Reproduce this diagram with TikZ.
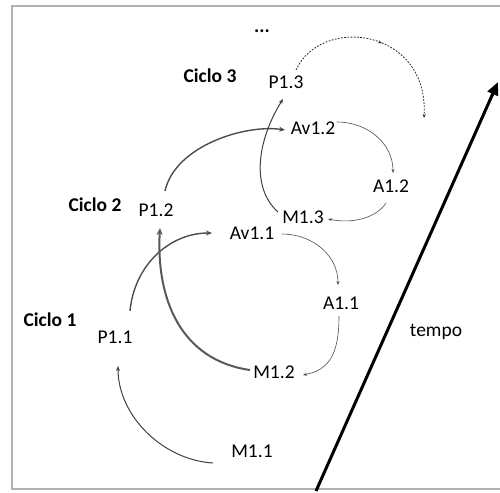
\documentclass[tikz,border=0pt]{standalone}
\usepackage{fontspec}
\setmainfont{Carlito}
\usetikzlibrary{arrows.meta,decorations.markings}
\begin{document}
\begin{tikzpicture}[x=1pt,y=-1pt,
  lbl/.style={font=\fontsize{19.5}{21}\selectfont, inner sep=0pt},
  cyc/.style={font=\fontsize{19.5}{21}\selectfont\bfseries, inner sep=0pt},
  fine/.style={draw=black!70, line width=0.6pt, -{Stealth[length=4pt,width=3pt]}},
  mid/.style={draw=black!75, line width=1pt, -{Stealth[length=5pt,width=4pt]}},
  bold/.style={draw=black!70, line width=1.4pt, -{Stealth[length=6pt,width=5pt]}},
  heavy/.style={draw=black!65, line width=2pt, -{Stealth[length=7pt,width=6pt]}},
  future/.style={draw=black!85, line width=0.8pt, dash pattern=on 1.8pt off 1.4pt,
    -{Stealth[length=4pt,width=3pt]},
    postaction={decorate, decoration={markings,
      mark=at position 0.52 with {\arrow[black!85]{Stealth[length=4pt,width=3pt]}}}}},
  timeline/.style={draw=black, line width=3pt, -{Triangle[length=13pt,width=11pt]}}
]
\useasboundingbox (0,0) rectangle (500,492);
% frame
\begin{scope}
  \clip (0,0) rectangle (500,492);
  \draw[black!30, line width=1.6pt] (12,6) rectangle (506,489);
\end{scope}

% cycle labels
\node[cyc] (dots) at (262,31) {...};
\node[cyc] (c3) at (210,76) {Ciclo 3};
\node[cyc] (c2) at (95,205) {Ciclo 2};
\node[cyc] (c1) at (50,320) {Ciclo 1};

% states
\node[lbl] (P13)  at (286,82)  {P1.3};
\node[lbl] (Av12) at (313,128) {Av1.2};
\node[lbl] (A12)  at (391,186) {A1.2};
\node[lbl] (M13)  at (303,217) {M1.3};
\node[lbl] (P12)  at (156,210) {P1.2};
\node[lbl] (Av11) at (252,233) {Av1.1};
\node[lbl] (A11)  at (341,303) {A1.1};
\node[lbl] (P11)  at (115,337) {P1.1};
\node[lbl] (M12)  at (274,372) {M1.2};
\node[lbl] (M11)  at (252,451) {M1.1};
\node[lbl] (tempo) at (436,332) {tempo};

% time axis
\coordinate (t0) at (316,491);
\coordinate (t1) at (498,82);
\draw[timeline] (t0) -- (t1);

% cycle 1
\draw[mid] ([shift={(-39,12)}]M11.center) .. controls +(-50,-3) and +(0,50) .. ([shift={(3,29)}]P11.center);
\draw[bold] ([shift={(15,-26)}]P11.center) .. controls +(4,-44) and +(-44,0) .. ([shift={(-40,0)}]Av11.center);
\draw[fine] ([shift={(30,1)}]Av11.center) .. controls +(30,0) and +(0,-30) .. ([shift={(-3,-18)}]A11.center);
\draw[fine] ([shift={(-2,13)}]A11.center) .. controls +(0,40) and +(25,-5) .. ([shift={(29,3)}]M12.center);

% cycle 2
\draw[heavy] ([shift={(-24,-2)}]M12.center) .. controls +(-70,-10) and +(-4,70) .. ([shift={(4,18)}]P12.center);
\draw[bold] ([shift={(9,-19)}]P12.center) .. controls +(10,-45) and +(-40,-6) .. ([shift={(-28,2)}]Av12.center);
\draw[fine] ([shift={(24,-6)}]Av12.center) .. controls +(30,0) and +(0,-30) .. ([shift={(2,-13)}]A12.center);
\draw[fine] ([shift={(-5,17)}]A12.center) .. controls +(-10,15) and +(25,5) .. ([shift={(25,2)}]M13.center);

% cycle 3
\draw[mid] ([shift={(-25,-5)}]M13.center) .. controls +(-28,-25) and +(-25,40) .. ([shift={(-3,17)}]P13.center);
\coordinate (next) at (424,118);
\draw[future] ([shift={(10,-12)}]P13.center) .. controls +(25,-55) and +(5,-90) .. (next);
\end{tikzpicture}
\end{document}
